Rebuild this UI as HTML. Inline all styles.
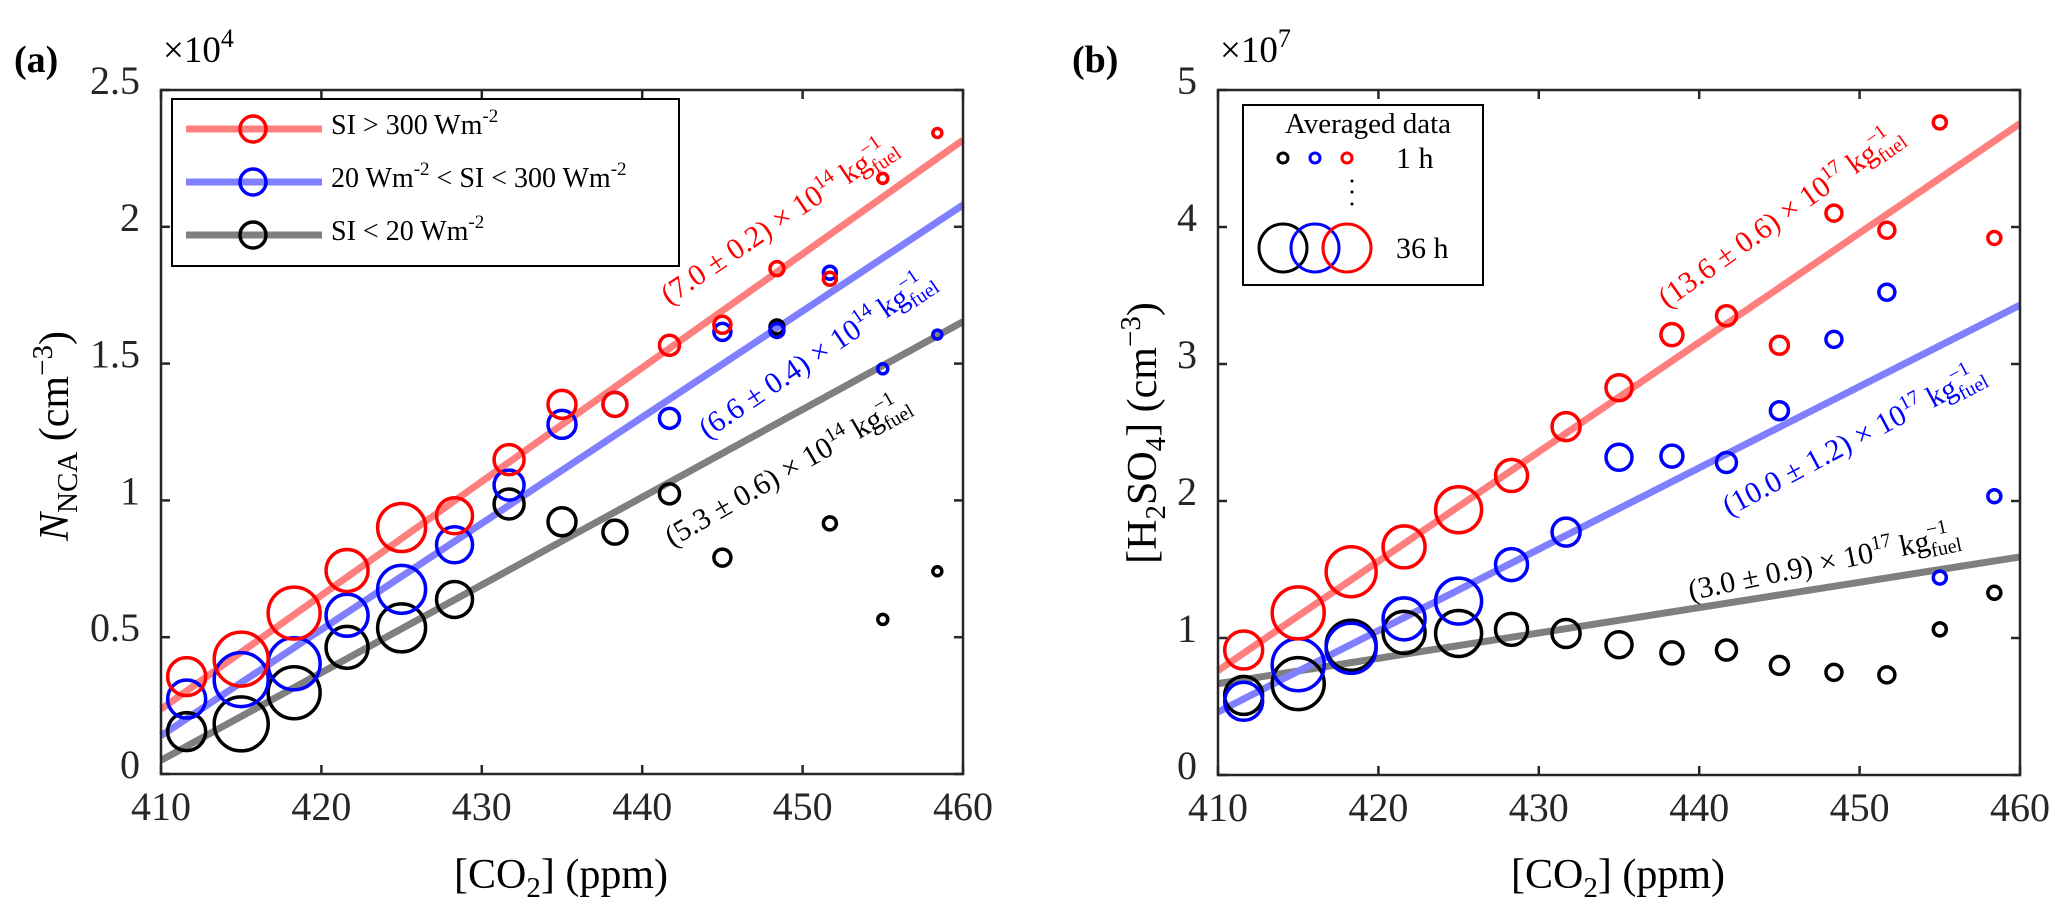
<!DOCTYPE html>
<html><head><meta charset="utf-8">
<style>
html,body{margin:0;padding:0;background:#fff;}
svg{display:block;font-family:"Liberation Serif","DejaVu Serif",serif;}
</style></head>
<body>
<svg id="chart" width="2067" height="921" viewBox="0 0 2067 921" xmlns="http://www.w3.org/2000/svg">
<rect x="0" y="0" width="2067" height="921" fill="#fff"/>
<g id="panelA"></g>
<g id="panelB"></g>

<text x="14" y="72" font-size="38" font-weight="bold">(a)</text>
<text x="163" y="62" font-size="37">×10<tspan dy="-15" font-size="26">4</tspan></text>
<text x="561" y="888" font-size="42" text-anchor="middle">[CO<tspan dy="9" font-size="29">2</tspan><tspan dy="-9">] (ppm)</tspan></text>
<text transform="translate(68,436) rotate(-90)" font-size="42" text-anchor="middle"><tspan font-style="italic">N</tspan><tspan dy="9" font-size="29">NCA</tspan><tspan dy="-9"> (cm</tspan><tspan dy="-16" font-size="29">−3</tspan><tspan dy="16">)</tspan></text>

<text x="1072" y="72" font-size="38" font-weight="bold">(b)</text>
<text x="1220" y="62" font-size="37">×10<tspan dy="-15" font-size="26">7</tspan></text>
<text x="1618" y="888" font-size="42" text-anchor="middle">[CO<tspan dy="9" font-size="29">2</tspan><tspan dy="-9">] (ppm)</tspan></text>
<text transform="translate(1156,433) rotate(-90)" font-size="42" text-anchor="middle">[H<tspan dy="9" font-size="29">2</tspan><tspan dy="-9">SO</tspan><tspan dy="9" font-size="29">4</tspan><tspan dy="-9">] (cm</tspan><tspan dy="-16" font-size="29">−3</tspan><tspan dy="16">)</tspan></text>

<text transform="translate(784,228) rotate(-34)" font-size="30" fill="#ff0000" text-anchor="middle">(7.0 ± 0.2) × 10<tspan dy="-12" font-size="20">14</tspan><tspan dy="12"> kg</tspan><tspan dy="7" font-size="20">fuel</tspan><tspan dx="-32" dy="-21" font-size="20">−1</tspan></text>
<text transform="translate(822,362) rotate(-34)" font-size="30" fill="#0000ff" text-anchor="middle">(6.6 ± 0.4) × 10<tspan dy="-12" font-size="20">14</tspan><tspan dy="12"> kg</tspan><tspan dy="7" font-size="20">fuel</tspan><tspan dx="-32" dy="-21" font-size="20">−1</tspan></text>
<text transform="translate(792,478) rotate(-30)" font-size="30" fill="#000" text-anchor="middle">(5.3 ± 0.6) × 10<tspan dy="-12" font-size="20">14</tspan><tspan dy="12"> kg</tspan><tspan dy="7" font-size="20">fuel</tspan><tspan dx="-32" dy="-21" font-size="20">−1</tspan></text>
<text transform="translate(1786,224) rotate(-35.5)" font-size="30" fill="#ff0000" text-anchor="middle">(13.6 ± 0.6) × 10<tspan dy="-12" font-size="20">17</tspan><tspan dy="12"> kg</tspan><tspan dy="7" font-size="20">fuel</tspan><tspan dx="-32" dy="-21" font-size="20">−1</tspan></text>
<text transform="translate(1858,448) rotate(-28)" font-size="30" fill="#0000ff" text-anchor="middle">(10.0 ± 1.2) × 10<tspan dy="-12" font-size="20">17</tspan><tspan dy="12"> kg</tspan><tspan dy="7" font-size="20">fuel</tspan><tspan dx="-32" dy="-21" font-size="20">−1</tspan></text>
<text transform="translate(1826,572) rotate(-11.8)" font-size="30" fill="#000" text-anchor="middle">(3.0 ± 0.9) × 10<tspan dy="-12" font-size="20">17</tspan><tspan dy="12"> kg</tspan><tspan dy="7" font-size="20">fuel</tspan><tspan dx="-32" dy="-21" font-size="20">−1</tspan></text>

<g>
<rect x="172" y="99" width="507" height="167" fill="#fff" stroke="#000" stroke-width="2"/>
<g>
<line x1="186" y1="129" x2="322" y2="129" stroke="#ff7f7f" stroke-width="7"/>
<circle cx="253" cy="129" r="13" fill="none" stroke="#ff0000" stroke-width="3.5"/>
<text x="331" y="134" font-size="28">SI &gt; 300 Wm<tspan dy="-12" font-size="19">-2</tspan></text></g>
<g>
<line x1="186" y1="182" x2="322" y2="182" stroke="#7f7fff" stroke-width="7"/>
<circle cx="253" cy="182" r="13" fill="none" stroke="#0000ff" stroke-width="3.5"/>
<text x="331" y="187" font-size="28">20 Wm<tspan dy="-12" font-size="19">-2</tspan><tspan dy="12"> &lt; SI &lt; 300 Wm</tspan><tspan dy="-12" font-size="19">-2</tspan></text></g>
<g>
<line x1="186" y1="235" x2="322" y2="235" stroke="#7f7f7f" stroke-width="7"/>
<circle cx="253" cy="235" r="13" fill="none" stroke="#000" stroke-width="3.5"/>
<text x="331" y="240" font-size="28">SI &lt; 20 Wm<tspan dy="-12" font-size="19">-2</tspan></text></g>
</g>

<g>
<rect x="1243" y="105" width="240" height="180" fill="#fff" stroke="#000" stroke-width="2"/>
<text x="1368" y="133" font-size="29" text-anchor="middle">Averaged data</text>
<circle cx="1283" cy="158" r="5" fill="none" stroke="#000" stroke-width="3"/>
<circle cx="1315" cy="158" r="5" fill="none" stroke="#0000ff" stroke-width="3"/>
<circle cx="1347" cy="158" r="5" fill="none" stroke="#ff0000" stroke-width="3"/>
<text x="1396" y="168" font-size="30">1 h</text>
<circle cx="1352" cy="181" r="1.5" fill="#000"/><circle cx="1352" cy="192" r="1.5" fill="#000"/><circle cx="1352" cy="204" r="1.5" fill="#000"/>
<circle cx="1283" cy="248" r="24" fill="none" stroke="#000" stroke-width="3"/>
<circle cx="1315" cy="248" r="24" fill="none" stroke="#0000ff" stroke-width="3"/>
<circle cx="1347" cy="248" r="24" fill="none" stroke="#ff0000" stroke-width="3"/>
<text x="1396" y="258" font-size="30">36 h</text>
</g>
</svg>
<script>
const co2 = [411.6,415.0,418.3,421.6,425.0,428.3,431.7,435.0,438.3,441.7,445.0,448.4,451.7,455.0,458.4];
const radiiA = [19,27,26,21,24,18,15,14,12,10,8.5,7,6.5,5,4.5];
const radiiB = [19,26,25,21,23,16,14,13,11,10,9,8,8,6.5,6.5];
const aRed = [0.356,0.420,0.588,0.744,0.901,0.944,1.149,1.351,1.351,1.567,1.642,1.847,1.810,2.177,2.343];
const aBlue = [0.274,0.345,0.403,0.580,0.675,0.838,1.056,1.278,1.351,1.300,1.616,1.621,1.832,1.481,1.606];
const aBlack = [0.155,0.183,0.297,0.463,0.534,0.638,0.987,0.922,0.884,1.024,0.791,1.634,0.916,0.565,0.741];
const bRed = [0.912,1.183,1.484,1.665,1.936,2.186,2.543,2.827,3.214,3.352,3.137,4.101,3.976,4.763,3.920];
const bBlue = [0.538,0.805,0.925,1.140,1.269,1.536,1.773,2.319,2.328,2.281,2.659,3.180,3.524,1.441,2.035];
const bBlack = [0.581,0.667,0.947,1.041,1.033,1.063,1.033,0.951,0.891,0.912,0.800,0.749,0.731,1.063,1.330];
const fitAEnds = {red:[0.237,2.317], blue:[0.140,2.080], black:[0.050,1.653]};
const fitBEnds = {red:[0.762,4.755], blue:[0.460,3.430], black:[0.667,1.592]};
const xTicks = [410,420,430,440,450,460];
const xTickLabels = ['410','420','430','440','450','460'];
const yTicksA = [0,0.5,1,1.5,2,2.5];
const yTickLabelsA = ['0','0.5','1','1.5','2','2.5'];
const yTicksB = [0,1,2,3,4,5];
const yTickLabelsB = ['0','1','2','3','4','5'];

const NS='http://www.w3.org/2000/svg';
function mk(parent,tag,attrs){const e=document.createElementNS(NS,tag);for(const k in attrs)e.setAttribute(k,attrs[k]);parent.appendChild(e);return e;}

function drawPanel(g,L,R,T,B,ymax,yTicks,yLabels,series,fits,radii,prefix){
  const sx=v=>L+(v-410)/50*(R-L);
  const sy=v=>B-v/ymax*(B-T);
  const fitColors={black:'#7f7f7f',blue:'#7f7fff',red:'#ff7f7f'};
  ['black','blue','red'].forEach(c=>{
    const ln=mk(g,'line',{x1:sx(410),y1:sy(fits[c][0]),x2:sx(460),y2:sy(fits[c][1]),stroke:fitColors[c],'stroke-width':7});
    
    
  });
  series.forEach(s=>{
    s.vals.forEach((v,i)=>{
      const c=mk(g,'circle',{cx:sx(co2[i]),cy:sy(v),r:radii[i],fill:'none',stroke:s.color,'stroke-width':3.5});
      
      
    });
  });
  const box=mk(g,'rect',{x:L,y:T,width:R-L,height:B-T,fill:'none',stroke:'#262626',"stroke-width":2.5});
  
  
  xTicks.forEach((t,i)=>{
    const x=sx(t);
    mk(g,'line',{x1:x,y1:B,x2:x,y2:B-9,stroke:'#262626','stroke-width':2.5});
    mk(g,'line',{x1:x,y1:T,x2:x,y2:T+9,stroke:'#262626','stroke-width':2.5});
    const tx=mk(g,'text',{x:x,y:B+46,'font-size':40,'text-anchor':'middle',fill:'#262626'});
    tx.textContent=xTickLabels[i];
    
    
  });
  yTicks.forEach((t,i)=>{
    const y=sy(t);
    mk(g,'line',{x1:L,y1:y,x2:L+9,y2:y,stroke:'#262626','stroke-width':2.5});
    mk(g,'line',{x1:R,y1:y,x2:R-9,y2:y,stroke:'#262626','stroke-width':2.5});
    const tx=mk(g,'text',{x:L-21,y:y+4,'font-size':40,'text-anchor':'end',fill:'#262626'});
    tx.textContent=yLabels[i];
    
    
  });
}
drawPanel(document.getElementById('panelA'),161,963,90,774,2.5,yTicksA,yTickLabelsA,
  [{name:'black',color:'#000',vals:aBlack},{name:'blue',color:'#0000ff',vals:aBlue},{name:'red',color:'#ff0000',vals:aRed}],
  fitAEnds,radiiA,'a');
drawPanel(document.getElementById('panelB'),1218,2020,90,775,5,yTicksB,yTickLabelsB,
  [{name:'black',color:'#000',vals:bBlack},{name:'blue',color:'#0000ff',vals:bBlue},{name:'red',color:'#ff0000',vals:bRed}],
  fitBEnds,radiiB,'b');
</script>
</body></html>
